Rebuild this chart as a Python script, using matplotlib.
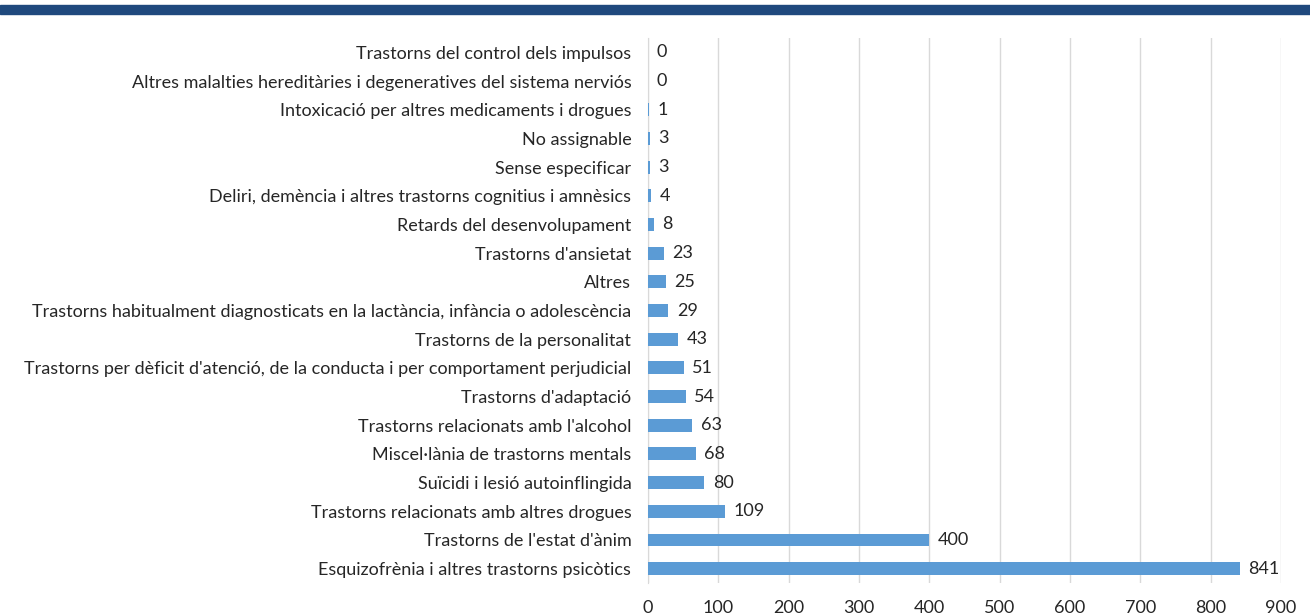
import matplotlib
matplotlib.use("Agg")
import matplotlib.pyplot as plt
from matplotlib.font_manager import fontManager

names = {f.name for f in fontManager.ttflist}
fam = "Lato" if "Lato" in names else "DejaVu Sans"
plt.rcParams['font.family'] = [fam, 'DejaVu Sans']

categories = [
    "Esquizofrènia i altres trastorns psicòtics",
    "Trastorns de l'estat d'ànim",
    "Trastorns relacionats amb altres drogues",
    "Suïcidi i lesió autoinflingida",
    "Miscel·lània de trastorns mentals",
    "Trastorns relacionats amb l'alcohol",
    "Trastorns d'adaptació",
    "Trastorns per dèficit d'atenció, de la conducta i per comportament perjudicial",
    "Trastorns de la personalitat",
    "Trastorns habitualment diagnosticats en la lactància, infància o adolescència",
    "Altres",
    "Trastorns d'ansietat",
    "Retards del desenvolupament",
    "Deliri, demència i altres trastorns cognitius i amnèsics",
    "Sense especificar",
    "No assignable",
    "Intoxicació per altres medicaments i drogues",
    "Altres malalties hereditàries i degeneratives del sistema nerviós",
    "Trastorns del control dels impulsos",
]
values = [841, 400, 109, 80, 68, 63, 54, 51, 43, 29, 25, 23, 8, 4, 3, 3, 1, 0, 0]
xticks = [0, 100, 200, 300, 400, 500, 600, 700, 800, 900]

fig = plt.figure(figsize=(13.1, 6.15), dpi=100)
r = fig.canvas.get_renderer()
t = fig.text(0, 0, max(categories, key=len), fontsize=12)
w = t.get_window_extent(renderer=r).width
t.remove()
fs = min(12 * 616 / w, 13)

fig.patches.append(plt.Rectangle((0, 1 - 14/615), 1, 9/615, transform=fig.transFigure,
                                 color="#1f497d", zorder=5))
ax = fig.add_axes([648/1310, 1 - 583/615, (1281-648)/1310, (583-38)/615])
y = list(range(len(categories)))
ax.barh(y, values, height=0.45, color="#5b9bd5", zorder=3)
for yi, v in zip(y, values):
    ax.text(v + 12, yi, str(v), va="center", ha="left", fontsize=fs, color="#262626")
ax.set_yticks(y)
ax.set_yticklabels(categories, fontsize=fs, color="#262626")
ax.set_ylim(-0.5, len(categories) - 0.5)
ax.set_xlim(0, 900)
ax.set_xticks(xticks)
ax.set_xticklabels([str(t) for t in xticks], fontsize=fs, color="#262626")
ax.grid(axis="x", color="#d9d9d9", linewidth=1, zorder=0)
for s in ["top", "right", "bottom"]:
    ax.spines[s].set_visible(False)
ax.spines["left"].set_color("#d9d9d9")
ax.tick_params(axis="y", length=0, pad=12)
ax.tick_params(axis="x", length=0, pad=12)
fig.savefig("out.png", dpi=100)
